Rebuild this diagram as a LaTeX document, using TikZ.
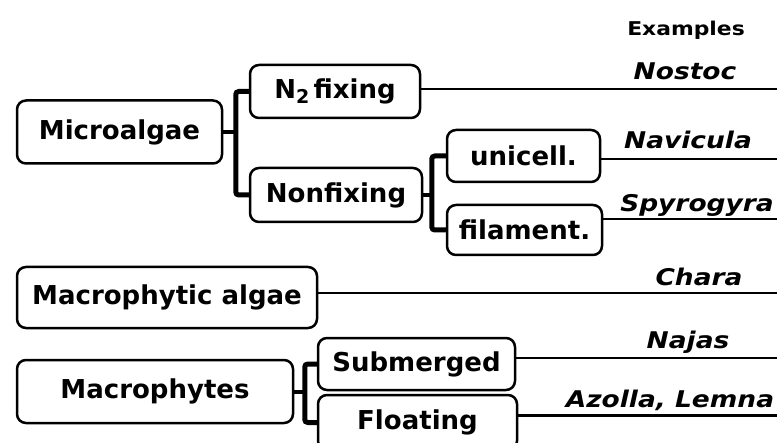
\documentclass[tikz,border=0pt]{standalone}
\usepackage{fontspec}
\setmainfont{DejaVu Sans}
\newfontfamily\exfont[FakeStretch=1.15]{DejaVu Sans}
\usetikzlibrary{calc}
\begin{document}
\begin{tikzpicture}[x=1pt,y=-1pt,
  box/.style={draw, line width=2.5pt, rounded corners=9pt, inner sep=0pt,
    font=\fontsize{26}{30}\selectfont\bfseries},
  conn/.style={line width=2.5pt},
  brk/.style={line width=5pt, rounded corners=3pt},
  stub/.style={line width=4pt},
  ex/.style={inner sep=0pt, font=\exfont\fontsize{23}{27}\selectfont\bfseries\itshape},
  hd/.style={inner sep=0pt, font=\exfont\fontsize{19}{23}\selectfont\bfseries}]
\clip (0,0) rectangle (778,443);
\fill[white] (0,0) rectangle (778,443);
% boxes
\node[box, minimum width=205, minimum height=63] (micro) at (119.5,132) {Microalgae};
\node[box, minimum width=170, minimum height=53] (n2) at (335,91.5) {N\raisebox{-5pt}{\fontsize{19}{19}\selectfont 2}\,fixing};
\node[box, minimum width=172, minimum height=54] (nonfix) at (336,195) {Nonfixing};
\node[box, minimum width=153, minimum height=52] (uni) at (523.5,156) {unicell.};
\node[box, minimum width=155, minimum height=50] (fil) at (524.5,230) {filament.};
\node[box, minimum width=300, minimum height=61] (macalg) at (167,297.5) {Macrophytic algae};
\node[box, minimum width=276, minimum height=63] (macph) at (155,391.5) {Macrophytes};
\node[box, minimum width=197, minimum height=52] (sub) at (416.5,364) {Submerged};
\node[box, minimum width=199, minimum height=55] (flo) at (417.5,422.5) {Floating};
% labels
\node[hd] (hdr) at (686,30) {Examples};
\node[ex] (lNostoc) at (685,71) {Nostoc};
\node[ex] (lNavicula) at (688,140) {Navicula};
\node[ex] (lSpyro) at (697,205) {Spyrogyra};
\node[ex] (lChara) at (699,277) {Chara};
\node[ex] (lNajas) at (688,342) {Najas};
\node[ex] (lAzolla) at (670,400) {Azolla, Lemna};
% brackets
\coordinate (j1) at ($(n2.west)+(-13,0)$);
\draw[brk] (n2.west) -- (j1) |- (nonfix.west);
\draw[stub] (micro.east) -- (micro.east -| j1);
\coordinate (j2) at ($(uni.west)+(-14,0)$);
\draw[brk] (uni.west) -- (j2) |- (fil.west);
\draw[stub] (nonfix.east) -- (nonfix.east -| j2);
\coordinate (j3) at ($(sub.west)+(-12,0)$);
\draw[brk] (sub.west) -- (j3) |- (flo.west);
\draw[stub] (macph.east) -- (macph.east -| j3);
% example lines
\coordinate (rx) at (777,0);
\coordinate (s1) at ([yshift=2.5pt]n2.east);
\coordinate (s2) at ([yshift=-3pt]uni.east);
\coordinate (s3) at ([yshift=11pt]fil.east);
\coordinate (s4) at ([yshift=4.5pt]macalg.east);
\coordinate (s5) at ([yshift=6pt]sub.east);
\coordinate (s6) at ([yshift=7pt]flo.east);
\draw[conn] (s1) -- (s1 -| rx);
\draw[conn] (s2) -- (s2 -| rx);
\draw[conn] (s3) -- (s3 -| rx);
\draw[conn] (s4) -- (s4 -| rx);
\draw[conn] (s5) -- (s5 -| rx);
\draw[conn] (s6) -- (s6 -| rx);
\end{tikzpicture}
\end{document}
